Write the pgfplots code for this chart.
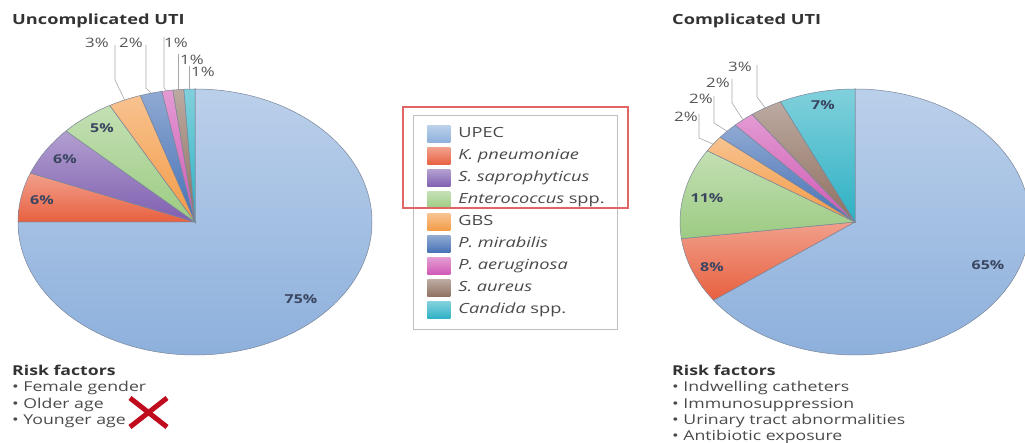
\documentclass[border=0pt]{standalone}
\usepackage{pgfplots}
\pgfplotsset{compat=1.18}
\usepackage{pgfplotstable}
\usepackage{fontspec}
\setmainfont{Open Sans}[FakeStretch=1.3]

\definecolor{cUPEC}{HTML}{8DB0DC}
\definecolor{cKpn}{HTML}{E8603F}
\definecolor{cSsap}{HTML}{7F5FB0}
\definecolor{cEnt}{HTML}{9CCB82}
\definecolor{cGBS}{HTML}{F39A45}
\definecolor{cPmir}{HTML}{4570B5}
\definecolor{cPaer}{HTML}{D058B5}
\definecolor{cSaur}{HTML}{8F7060}
\definecolor{cCand}{HTML}{2DB1C4}
\definecolor{slice}{HTML}{7A8598}
\definecolor{lab}{HTML}{3A4560}
\definecolor{olab}{HTML}{555555}
\definecolor{txt}{HTML}{4A4A4A}
\definecolor{ttl}{HTML}{333333}
\definecolor{xred}{HTML}{C00A1E}
\definecolor{boxred}{HTML}{E06666}

% Uncomplicated UTI (percent of cases)
\pgfplotstableread{
species pct col
UPEC 75 cUPEC
Kpn 6 cKpn
Ssap 6 cSsap
Ent 5 cEnt
GBS 3 cGBS
Pmir 2 cPmir
Paer 1 cPaer
Saur 1 cSaur
Cand 1 cCand
}\uncomp

% Complicated UTI (percent of cases)
\pgfplotstableread{
species pct col
UPEC 65 cUPEC
Kpn 8 cKpn
Ent 11 cEnt
GBS 2 cGBS
Pmir 2 cPmir
Paer 2 cPaer
Saur 3 cSaur
Cand 7 cCand
}\comp

% #1 table, #2 cx, #3 cy, #4 rx, #5 ry  (clockwise from 12 o'clock)
\newcommand{\drawpie}[5]{%
  \pgfplotstablegetrowsof{#1}%
  \pgfmathtruncatemacro\lastrow{\pgfplotsretval-1}%
  \xdef\curang{90}%
  \foreach \ri in {0,...,\lastrow}{%
    \pgfplotstablegetelem{\ri}{pct}\of{#1}\let\pv\pgfplotsretval
    \pgfplotstablegetelem{\ri}{col}\of{#1}\let\slicecol\pgfplotsretval
    \pgfmathsetmacro\endang{\curang-3.6*\pv}%
    \pgfmathsetmacro\sx{#2+#4*cos(\curang)}%
    \pgfmathsetmacro\sy{#3+#5*sin(\curang)}%
    \shadedraw[top color=\slicecol!60!white, bottom color=\slicecol, draw=slice, line width=0.5pt]
      (axis cs:#2,#3) -- (axis cs:\sx,\sy)
      arc[start angle=\curang, end angle=\endang, x radius=#4, y radius=#5] -- cycle;
    \xdef\curang{\endang}%
  }%
}

\pgfplotsset{
  swatch/.style={legend image code/.code={%
    \path[draw=none,fill=none] (0pt,0pt) (40pt,0pt);
    \shade[draw=none, top color=#1!60!white, bottom color=#1] (11pt,-8.5pt) rectangle (34pt,8.5pt);}},
}
\tikzset{
  lbl/.style={font=\fontsize{12.3}{14}\selectfont\bfseries, text=lab, inner sep=0pt},
  olbl/.style={font=\fontsize{13}{15}\selectfont, text=olab, inner sep=0pt},
  lead/.style={draw=gray!70, line width=0.6pt},
}

\begin{document}
\begin{tikzpicture}
\begin{axis}[
  width=1025pt, height=443pt, scale only axis,
  xmin=0, xmax=1025, ymin=0, ymax=443,
  hide axis, clip=false,
  legend cell align=left,
  legend style={at={(axis cs:413,328)}, anchor=north west,
     draw=gray!50, line width=0.8pt, fill=white,
     inner xsep=3pt, inner ysep=8pt, row sep=0pt,
     font=\fontsize{14}{16}\selectfont, text=txt,
     nodes={inner xsep=2pt, inner ysep=3.5pt, text height=11pt, text depth=4pt,
            text width=154pt, align=left}},
]
\pgfplotsextra{\drawpie{\uncomp}{195}{221}{177}{133}}
\pgfplotsextra{\drawpie{\comp}{855}{221}{175}{133}}

% leader lines, left pie
\draw[lead] (axis cs:115,398) -- (axis cs:115,363) -- (axis cs:124.7,343);
\draw[lead] (axis cs:146,398) -- (axis cs:146,355) -- (axis cs:151,350);
\draw[lead] (axis cs:164,406) -- (axis cs:164,355) -- (axis cs:167,352);
\draw[lead] (axis cs:178,389) -- (axis cs:178,353.4);
\draw[lead] (axis cs:189,377) -- (axis cs:189,354);
% leader lines, right pie
\draw[lead] (axis cs:757,378) -- (axis cs:757,346) -- (axis cs:765,335.5);
\draw[lead] (axis cs:732,364) -- (axis cs:732,340) -- (axis cs:742.8,323.5);
\draw[lead] (axis cs:714,347) -- (axis cs:714,320) -- (axis cs:726.7,312);
\draw[lead] (axis cs:699,329) -- (axis cs:699,305) -- (axis cs:712.6,299.2);

% labels, left pie
\node[lbl] at (axis cs:301,144) {75\%};
\node[lbl] at (axis cs:42,243) {6\%};
\node[lbl] at (axis cs:65,284) {6\%};
\node[lbl] at (axis cs:102,315) {5\%};
\node[olbl] at (axis cs:97,400) {3\%};
\node[olbl] at (axis cs:131,400) {2\%};
\node[olbl] at (axis cs:176,400) {1\%};
\node[olbl] at (axis cs:192,383) {1\%};
\node[olbl] at (axis cs:203,371) {1\%};
% labels, right pie
\node[lbl] at (axis cs:823,338) {7\%};
\node[lbl] at (axis cs:707,245) {11\%};
\node[lbl] at (axis cs:712,176) {8\%};
\node[lbl] at (axis cs:988,178) {65\%};
\node[olbl] at (axis cs:740,376) {3\%};
\node[olbl] at (axis cs:718,360) {2\%};
\node[olbl] at (axis cs:701,344) {2\%};
\node[olbl] at (axis cs:686,326) {2\%};

% titles
\node[anchor=base west, inner sep=0pt, font=\fontsize{14}{16}\selectfont\bfseries, text=ttl] at (axis cs:12,418) {Uncomplicated UTI};
\node[anchor=base west, inner sep=0pt, font=\fontsize{14}{16}\selectfont\bfseries, text=ttl] at (axis cs:672,418) {Complicated UTI};

% risk factors
\node[anchor=base west, inner sep=0pt, font=\fontsize{13.6}{16}\selectfont\bfseries, text=ttl] at (axis cs:12,67) {Risk factors};
\node[anchor=base west, inner sep=0pt, font=\fontsize{13.6}{16}\selectfont, text=txt] at (axis cs:12,51) {• Female gender};
\node[anchor=base west, inner sep=0pt, font=\fontsize{13.6}{16}\selectfont, text=txt] at (axis cs:12,34.7) {• Older age};
\node[anchor=base west, inner sep=0pt, font=\fontsize{13.6}{16}\selectfont, text=txt] at (axis cs:12,18.4) {• Younger age};
\node[anchor=base west, inner sep=0pt, font=\fontsize{13.6}{16}\selectfont\bfseries, text=ttl] at (axis cs:672,67) {Risk factors};
\node[anchor=base west, inner sep=0pt, font=\fontsize{13.6}{16}\selectfont, text=txt] at (axis cs:672,51) {• Indwelling catheters};
\node[anchor=base west, inner sep=0pt, font=\fontsize{13.6}{16}\selectfont, text=txt] at (axis cs:672,34.7) {• Immunosuppression};
\node[anchor=base west, inner sep=0pt, font=\fontsize{13.6}{16}\selectfont, text=txt] at (axis cs:672,18.4) {• Urinary tract abnormalities};
\node[anchor=base west, inner sep=0pt, font=\fontsize{13.6}{16}\selectfont, text=txt] at (axis cs:672,2.1) {• Antibiotic exposure};

% red cross
\draw[xred, line width=5pt] (axis cs:130,45) -- (axis cs:167,16);
\draw[xred, line width=5pt] (axis cs:130,16) -- (axis cs:167,45);

% legend
\addlegendimage{swatch=cUPEC}\addlegendentry{UPEC}
\addlegendimage{swatch=cKpn}\addlegendentry{\textit{K. pneumoniae}}
\addlegendimage{swatch=cSsap}\addlegendentry{\textit{S. saprophyticus}}
\addlegendimage{swatch=cEnt}\addlegendentry{\textit{Enterococcus} spp.}
\addlegendimage{swatch=cGBS}\addlegendentry{GBS}
\addlegendimage{swatch=cPmir}\addlegendentry{\textit{P. mirabilis}}
\addlegendimage{swatch=cPaer}\addlegendentry{\textit{P. aeruginosa}}
\addlegendimage{swatch=cSaur}\addlegendentry{\textit{S. aureus}}
\addlegendimage{swatch=cCand}\addlegendentry{\textit{Candida} spp.}
\end{axis}
\draw[boxred, line width=1.2pt] (403pt,336pt) rectangle (628pt,235pt);
\pgfresetboundingbox
\path[use as bounding box] (0pt,0pt) rectangle (1025pt,443pt);
\end{tikzpicture}
\end{document}
